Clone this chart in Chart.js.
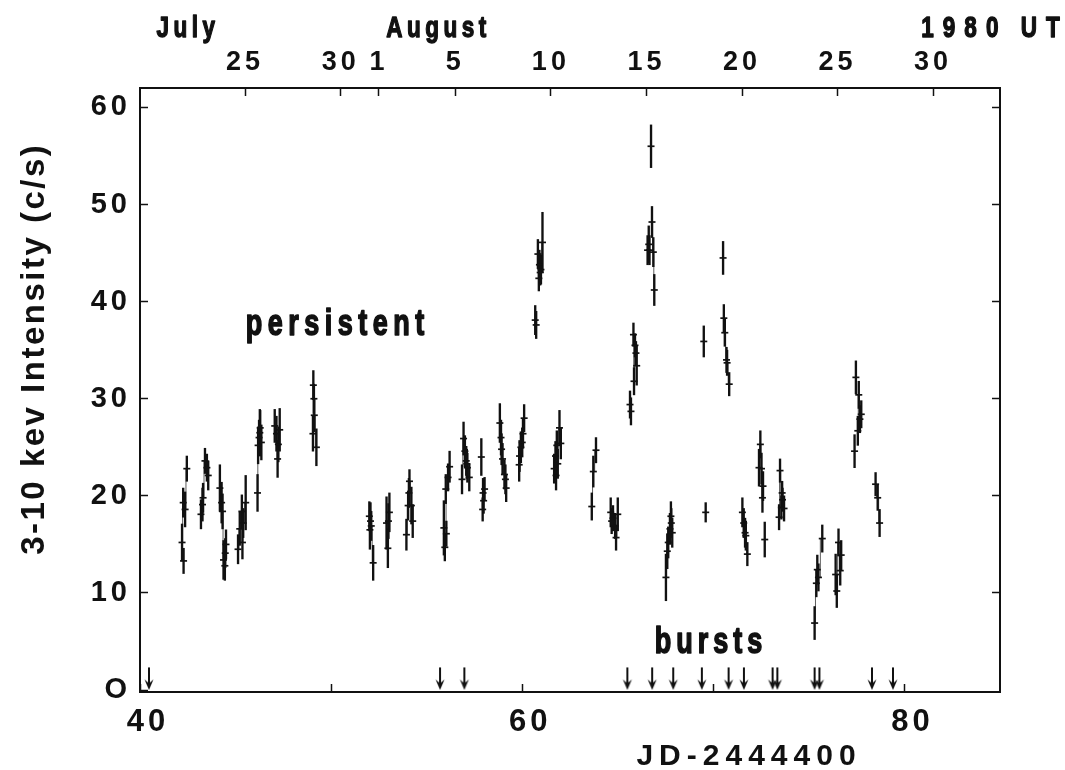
<!DOCTYPE html>
<html>
<head>
<meta charset="utf-8">
<script src="https://cdn.jsdelivr.net/npm/chart.js@4.4.0/dist/chart.umd.min.js"></script>
<style>
  html, body { margin: 0; padding: 0; background: #fff; }
</style>
</head>
<body>
<canvas id="chart" width="1065" height="770"></canvas>
<script>
// 3-10 keV count rate, JD-2444400
const jd = [
  42.20, 42.26, 42.28, 42.36, 42.45,
  43.19, 43.27, 43.30, 43.40, 43.50, 43.57,
  44.18, 44.27, 44.32, 44.37, 44.44, 44.46, 44.50,
  45.13, 45.22, 45.33, 45.36, 45.40, 45.53,
  46.15, 46.18, 46.23, 46.27, 46.29, 46.35,
  47.05, 47.14, 47.20, 47.24, 47.31,
  49.05, 49.07, 49.10, 49.12, 49.23,
  52.00, 52.03, 52.06, 52.10, 52.20,
  52.90, 52.97, 53.00, 53.05,
  53.94, 54.03, 54.07, 54.10, 54.20, 54.27,
  55.90, 55.95, 56.00, 56.03, 56.12, 56.20,
  56.85, 56.93, 57.00, 57.07, 57.10, 57.13, 57.23,
  57.86, 57.93, 57.95, 57.98, 58.03,
  58.83, 58.89, 58.92, 58.97, 59.07, 59.12, 59.16,
  59.84, 59.86, 59.93, 60.00, 60.04, 60.10,
  60.68, 60.73, 60.82, 60.87, 60.90, 60.94, 60.98, 61.06,
  61.67, 61.74, 61.77, 61.81, 61.86, 61.95, 62.02,
  63.64, 63.72, 63.86,
  64.63, 64.68, 64.75, 64.86, 64.91, 65.00,
  65.64, 65.69, 65.82, 65.85, 65.90, 65.95, 65.99,
  66.56, 66.62, 66.66, 66.74, 66.79, 66.86, 66.91,
  67.52, 67.59, 67.64, 67.73, 67.78, 67.80, 67.85,
  69.50, 69.60,
  70.51, 70.55, 70.60, 70.69, 70.72, 70.83,
  71.52, 71.59, 71.66, 71.70, 71.78,
  72.39, 72.46, 72.52, 72.57, 72.60, 72.69,
  73.44, 73.49, 73.56, 73.60, 73.62, 73.70,
  75.30, 75.39, 75.44, 75.50, 75.70,
  76.40, 76.46, 76.55, 76.64, 76.69,
  77.39, 77.46, 77.56, 77.61, 77.67, 77.74,
  78.49, 78.60, 78.70
];
const rate = [
  15.2, 19.3, 13.3, 18.6, 22.8,
  18.1, 19.1, 19.8, 23.6, 22.9, 22.1,
  20.8, 19.3, 18.4, 13.4, 12.8, 14.1, 15.0,
  14.5, 16.6, 18.4, 15.2, 17.2, 19.3,
  20.3, 25.2, 26.0, 26.5, 27.0, 25.5,
  27.2, 26.4, 23.8, 25.3, 26.8,
  26.4, 31.4, 30.0, 28.3, 25.0,
  17.9, 16.5, 17.4, 16.9, 13.1,
  17.2, 14.6, 17.4, 18.3,
  16.0, 19.0, 20.3, 21.5, 19.0, 17.4,
  16.7, 14.7, 20.7, 16.1, 21.9, 23.0,
  21.7, 25.9, 24.6, 23.6, 23.3, 22.9, 21.9,
  24.0, 18.6, 20.3, 19.5, 20.7,
  27.5, 26.0, 24.8, 23.8, 22.2, 21.7, 20.8,
  23.2, 24.1, 25.0, 25.5, 26.4, 28.0,
  38.1, 37.6, 44.9, 42.4, 43.8, 43.0, 43.3, 46.1,
  22.8, 24.1, 22.1, 25.2, 23.3, 27.0, 25.4,
  18.9, 22.5, 24.7,
  18.3, 17.4, 17.7, 16.9, 15.7, 18.1,
  29.4, 28.7, 36.6, 31.8, 35.5, 34.7, 33.4,
  45.3, 45.9, 45.3, 56.0, 48.2, 45.1, 41.2,
  11.6, 14.3, 15.2, 16.6, 17.9, 17.2, 16.2,
  35.9, 18.3,
  44.5, 38.3, 36.8, 34.0, 33.7, 31.5,
  18.3, 17.2, 16.2, 15.9, 14.0,
  22.9, 25.3, 22.8, 19.8, 21.0, 15.5,
  17.8, 22.6, 18.8, 20.3, 19.6, 18.7,
  6.9, 11.0, 12.4, 11.6, 15.6,
  11.9, 10.2, 15.2, 12.3, 13.9,
  24.6, 32.2, 26.7, 30.4, 27.9, 28.4,
  21.2, 19.8, 17.2
];
const err = [
  1.9, 1.5, 1.3, 1.8, 1.3,
  1.5, 1.7, 1.5, 1.3, 1.4, 1.5,
  2.4, 2.1, 1.8, 2.0, 1.5, 1.5, 1.5,
  1.5, 1.7, 1.7, 1.7, 1.5, 2.8,
  1.9, 1.9, 1.8, 2.4, 1.8, 1.8,
  1.7, 1.8, 1.9, 1.8, 2.2,
  1.8, 1.5, 1.5, 1.7, 1.9,
  1.5, 2.0, 1.9, 1.5, 1.8,
  2.7, 2.0, 1.8, 2.0,
  1.6, 1.5, 1.5, 1.2, 1.9, 1.7,
  2.8, 1.4, 1.5, 1.3, 1.4, 1.6,
  1.5, 1.7, 1.6, 1.5, 1.5, 1.5, 1.4,
  1.9, 1.2, 1.5, 1.3, 1.2,
  2.0, 1.8, 1.6, 1.6, 1.5, 1.5, 1.4,
  1.7, 1.6, 1.6, 1.5, 1.5, 1.4,
  1.5, 1.4, 1.5, 1.3, 1.5, 1.3, 1.5, 3.1,
  1.5, 1.5, 1.5, 1.5, 1.5, 1.8, 1.6,
  1.4, 1.6, 1.3,
  1.5, 1.3, 1.3, 1.3, 1.3, 1.7,
  1.4, 1.4, 1.2, 1.4, 1.2, 1.2, 2.0,
  1.5, 1.9, 1.5, 2.2, 1.6, 1.5, 1.6,
  2.4, 1.8, 1.6, 1.6, 1.5, 1.5, 1.5,
  1.6, 1.0,
  1.7, 1.4, 1.4, 1.3, 1.3, 1.2,
  1.5, 1.5, 1.5, 1.5, 1.2,
  1.9, 1.4, 1.6, 1.5, 1.5, 1.8,
  1.3, 1.2, 1.2, 1.2, 1.2, 1.3,
  1.7, 1.4, 1.5, 1.4, 1.4,
  2.1, 1.7, 1.4, 1.5, 1.5,
  1.7, 1.7, 1.5, 1.4, 1.4, 1.4,
  1.2, 1.3, 1.4
];

// X-ray bursts (arrows along the bottom)
const burstJD = [40.47, 55.7, 56.97, 65.5, 66.8, 67.9, 69.4, 70.8, 71.6, 73.1, 73.35, 75.3, 75.55, 78.3, 79.4];
const burstLevel = 1.2;

// axes
const xTicks = [40, 50, 60, 70, 80];
const xTickLabels = ['40', '', '60', '', '80'];
const yTicks = [0, 10, 20, 30, 40, 50, 60];
const yTickLabels = ['O', '10', '20', '30', '40', '50', '60'];
const rightTicks = [10, 20, 30, 40, 50, 60];
const dateJD = [45.5, 50.5, 52.5, 56.5, 61.5, 66.5, 71.5, 76.5, 81.5];
const dateLabels = ['25', '30', '1', '5', '10', '15', '20', '25', '30'];
const monthLabels = ['July', 'August', '1980', 'UT'];
const monthJD = [42.4, 55.5, 82.9, 87.1];

const FONT = '"Liberation Sans", Arial, sans-serif';
const INK = '#111';

const errBars = jd.map((v, i) => ({ x: v, y: [rate[i] - err[i], rate[i] + err[i]] }));
const marks = jd.map((v, i) => ({ x: v, y: rate[i] }));

// thin connecting steps inside each observing run
const steps = [];
jd.forEach((v, i) => {
  if (i > 0 && (v - jd[i - 1] > 0.3 || Math.abs(rate[i] - rate[i - 1]) > 5)) {
    steps.push({ x: (v + jd[i - 1]) / 2, y: null });
  }
  steps.push({ x: v, y: rate[i] });
});

const bursts = burstJD.map(v => ({ x: v, y: burstLevel }));

function arrowImage() {
  const c = document.createElement('canvas');
  c.width = 12;
  c.height = 24;
  const g = c.getContext('2d');
  g.strokeStyle = INK;
  g.fillStyle = INK;
  g.lineWidth = 2;
  g.beginPath();
  g.moveTo(6, 1);
  g.lineTo(6, 20);
  g.stroke();
  g.beginPath();
  g.moveTo(1.5, 13);
  g.lineTo(6, 23.5);
  g.lineTo(10.5, 13);
  g.lineTo(6, 17);
  g.closePath();
  g.fill();
  return c;
}

// text squeezed horizontally by sx to mimic the condensed typeface,
// with an outline stroke to keep the heavy weight
function drawText(ctx, text, x, y, size, gap, sx, rot, heavy) {
  ctx.save();
  ctx.translate(x, y);
  if (rot) ctx.rotate(rot);
  ctx.scale(sx, 1);
  ctx.font = 'bold ' + size + 'px ' + FONT;
  ctx.letterSpacing = (gap / sx) + 'px';
  ctx.textAlign = 'center';
  ctx.textBaseline = 'middle';
  ctx.fillStyle = INK;
  ctx.fillText(text, gap / sx / 2, 0);
  if (heavy) {
    ctx.strokeStyle = INK;
    ctx.lineWidth = heavy;
    ctx.lineJoin = 'round';
    ctx.strokeText(text, gap / sx / 2, 0);
  }
  ctx.restore();
}

const spacing = {
  id: 'spacing',
  beforeDraw(chart) { chart.ctx.letterSpacing = '4px'; },
  afterDraw(chart) { chart.ctx.letterSpacing = '0px'; }
};

const notes = {
  id: 'notes',
  afterDraw(chart) {
    const { ctx, scales: { x, y } } = chart;
    drawText(ctx, 'persistent', x.getPixelForValue(50.2), y.getPixelForValue(37.6), 36, 5.5, 0.75, 0, 1.6);
    drawText(ctx, 'bursts', x.getPixelForValue(69.75), y.getPixelForValue(4.8), 36, 5, 0.75, 0, 1.6);
    monthLabels.forEach((m, i) => {
      drawText(ctx, m, x.getPixelForValue(monthJD[i]), 29, 30, i < 2 ? 4.5 : 9, 0.75, 0, 1.4);
    });
    drawText(ctx, '3-10 kev Intensity (c/s)', 35, 350, 33, 2.5, 1, -Math.PI / 2, 0);
    drawText(ctx, 'JD-2444400', 746, 757, 30, 6, 1, 0, 0);
  }
};

function axisBase(min, max) {
  return {
    min: min,
    max: max,
    offset: false,
    grid: {
      display: true,
      drawOnChartArea: false,
      drawTicks: true,
      tickLength: -8,
      tickWidth: 1.5,
      tickColor: INK,
      offset: false
    },
    border: { display: true, color: INK, width: 2 }
  };
}

const ctx = document.getElementById('chart').getContext('2d');
const chart = new Chart(ctx, {
  type: 'bar',
  data: {
    datasets: [
      {
        type: 'line',
        data: steps,
        borderColor: '#333',
        borderWidth: 0.8,
        pointRadius: 0,
        stepped: 'middle',
        spanGaps: false,
        order: 3
      },
      {
        type: 'bar',
        data: errBars,
        backgroundColor: INK,
        borderWidth: 0,
        barThickness: 1.7,
        grouped: false,
        order: 2
      },
      {
        type: 'scatter',
        data: marks,
        pointStyle: 'line',
        pointRadius: 3.5,
        borderWidth: 1.7,
        borderColor: INK,
        order: 1
      },
      {
        type: 'scatter',
        data: bursts,
        pointStyle: arrowImage(),
        pointRadius: 10,
        order: 0
      }
    ]
  },
  options: {
    responsive: false,
    animation: false,
    devicePixelRatio: 1,
    events: [],
    layout: { padding: 0 },
    plugins: {
      legend: { display: false },
      tooltip: { enabled: false }
    },
    scales: {
      x: Object.assign(axisBase(40, 85), {
        type: 'linear',
        position: 'bottom',
        afterBuildTicks: s => { s.ticks = xTicks.map(v => ({ value: v })); },
        afterFit: s => { s.height = 78; },
        ticks: {
          autoSkip: false,
          maxRotation: 0,
          padding: 23,
          labelOffset: 8,
          color: INK,
          font: { family: FONT, size: 31, weight: 'bold', lineHeight: 1 },
          callback: (v, i) => xTickLabels[i]
        }
      }),
      x2: Object.assign(axisBase(40, 85), {
        type: 'linear',
        position: 'top',
        afterBuildTicks: s => { s.ticks = dateJD.map(v => ({ value: v })); },
        afterFit: s => { s.height = 88; },
        ticks: {
          autoSkip: false,
          maxRotation: 0,
          padding: 20,
          color: INK,
          font: { family: FONT, size: 27, weight: 'bold', lineHeight: 1 },
          callback: (v, i) => dateLabels[i]
        }
      }),
      y: Object.assign(axisBase(-0.2, 62), {
        type: 'linear',
        position: 'left',
        afterBuildTicks: s => { s.ticks = yTicks.map(v => ({ value: v })); },
        afterFit: s => { s.width = 140; },
        ticks: {
          autoSkip: false,
          padding: 17,
          color: INK,
          font: { family: FONT, size: 29, weight: 'bold', lineHeight: 1 },
          callback: (v, i) => yTickLabels[i]
        }
      }),
      y2: Object.assign(axisBase(-0.2, 62), {
        type: 'linear',
        position: 'right',
        afterBuildTicks: s => { s.ticks = rightTicks.map(v => ({ value: v })); },
        afterFit: s => { s.width = 65; },
        ticks: {
          autoSkip: false,
          callback: () => ''
        }
      })
    }
  },
  plugins: [spacing, notes]
});
</script>
</body>
</html>
